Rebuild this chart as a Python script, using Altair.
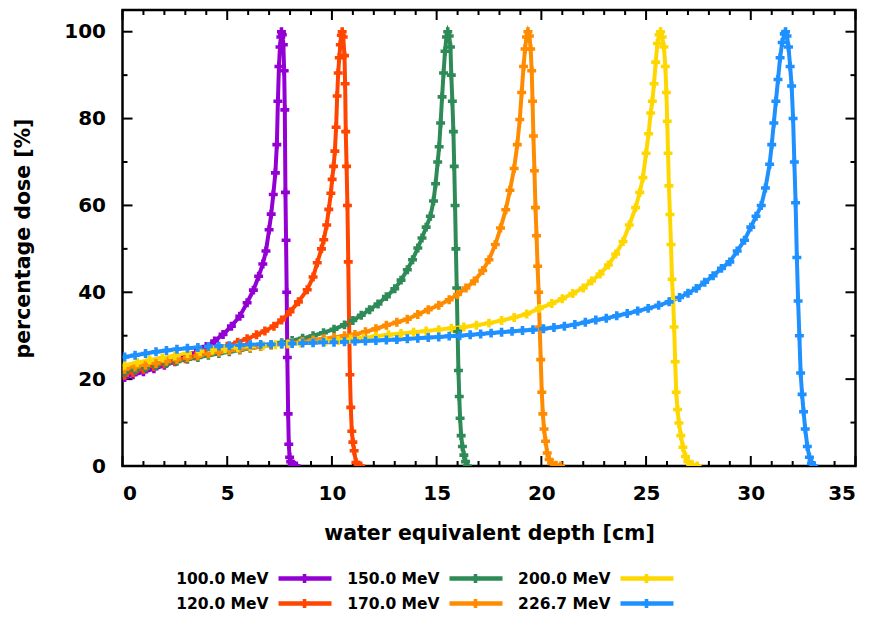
import altair as alt
import pandas as pd

names = ["100.0 MeV", "120.0 MeV", "150.0 MeV", "170.0 MeV", "200.0 MeV", "226.7 MeV"]
colors = ["#9400D3", "#FF4500", "#2E8B57", "#FF8C00", "#FFD700", "#1E90FF"]

x100 = [0.1, 0.5, 1.0, 1.5, 2.0, 2.5, 3.0, 3.5, 4.0, 4.4, 4.8, 5.2, 5.6, 5.95, 6.25, 6.5, 6.7, 6.85, 7.0, 7.1, 7.2, 7.3, 7.37, 7.42, 7.47, 7.52, 7.56, 7.59,
        7.63, 7.68, 7.72, 7.75, 7.78, 7.81, 7.84, 7.87, 7.91, 7.94, 7.98, 8.03, 8.1, 8.2, 8.3]
y100 = [20.4, 21.0, 21.7, 22.4, 23.2, 24.0, 25.0, 26.0, 27.5, 28.8, 30.3, 32.2, 34.5, 37.6, 40.5, 43.7, 46.5, 49.5, 54.4, 58.0, 62.5, 67.5, 74.0, 84.0, 92.0, 96.5, 98.8, 100.0,
        99.3, 97.0, 91.0, 82.0, 63.0, 52.0, 40.0, 25.0, 12.0, 5.0, 2.0, 1.0, 0.4, 0.1, 0.0]

x120 = [0.1, 0.5, 1.0, 1.5, 2.0, 2.5, 3.0, 3.5, 4.0, 4.5, 5.0, 5.5, 5.95, 6.4, 6.8, 7.23, 7.6, 8.0, 8.4, 8.82, 9.1, 9.3, 9.5, 9.61, 9.75, 9.85, 9.95, 10.01, 10.08,
        10.14, 10.2, 10.25, 10.3, 10.35, 10.4, 10.45, 10.49,
        10.54, 10.6, 10.63, 10.66, 10.7, 10.74, 10.78, 10.82, 10.86, 10.9, 10.95, 11.0, 11.06, 11.15, 11.25, 11.37]
y120 = [20.9, 21.5, 22.2, 22.9, 23.5, 24.1, 24.7, 25.3, 26.0, 26.8, 27.6, 28.5, 29.3, 30.2, 31.1, 32.2, 33.6, 35.5, 37.8, 40.6, 43.5, 46.8, 50.0, 52.1, 55.5, 59.1, 62.8,
        66.0, 69.0, 72.5, 78.0, 85.2, 90.5, 94.0, 97.0, 99.2, 100.0,
        98.8, 94.5, 88.0, 77.0, 69.0, 60.0, 47.0, 33.0, 21.0, 13.5, 8.0, 5.5, 3.5, 0.8, 0.2, 0.0]

x150 = [0.1, 0.6, 1.1, 1.6, 2.1, 2.6, 3.1, 3.6, 4.1, 4.6, 5.1, 5.6, 6.1, 6.6, 7.1, 7.6, 8.1, 8.6, 9.1, 9.6, 10.1, 10.6, 11.0, 11.4, 11.8, 12.2, 12.6, 13.0, 13.3,
        13.6, 13.85, 14.1, 14.3, 14.5, 14.7, 14.85, 14.95, 15.05, 15.12, 15.19, 15.26, 15.33, 15.4, 15.47, 15.53,
        15.6, 15.66, 15.7, 15.75, 15.8, 15.84, 15.88, 15.92, 15.96, 16.0, 16.04, 16.08, 16.12, 16.17, 16.23, 16.3, 16.38, 16.46]
y150 = [21.6, 22.1, 22.6, 23.1, 23.6, 24.1, 24.6, 25.0, 25.5, 25.9, 26.3, 26.7, 27.1, 27.5, 27.9, 28.4, 28.9, 29.4, 30.0, 30.7, 31.5, 32.5, 33.5, 34.7, 36.0, 37.3,
        39.0, 40.8, 42.8, 45.2, 47.5, 50.2, 52.5, 55.0, 57.5, 61.0, 65.0, 70.0, 73.5, 79.0, 85.0, 90.5, 95.5, 98.8, 100.0,
        99.0, 96.5, 90.0, 84.0, 77.0, 69.0, 60.0, 50.0, 41.0, 31.0, 22.0, 16.0, 11.0, 7.0, 4.5, 2.5, 1.0, 0.0]

x170 = [0.1, 0.6, 1.1, 1.6, 2.1, 2.6, 3.1, 3.6, 4.1, 4.6, 5.1, 5.6, 6.1, 6.6, 7.1, 7.6, 8.1, 8.6, 9.1, 9.6, 10.1, 10.6, 11.1, 11.6, 12.1, 12.6, 13.1, 13.6,
        14.1, 14.6, 15.1, 15.6, 16.0, 16.4, 16.8, 17.2, 17.5, 17.8, 18.05, 18.3, 18.5, 18.7, 18.85, 18.97, 19.06, 19.15, 19.22, 19.29, 19.36,
        19.43, 19.49, 19.54, 19.58, 19.62, 19.67, 19.72, 19.77, 19.82, 19.87, 19.92, 19.97, 20.02, 20.07, 20.13, 20.2, 20.28, 20.37, 20.5, 20.7, 20.92]
y170 = [22.3, 22.8, 23.2, 23.6, 24.1, 24.5, 24.9, 25.3, 25.8, 26.2, 26.6, 26.9, 27.2, 27.5, 27.8, 28.1, 28.4, 28.7, 29.0, 29.3, 29.6, 30.0, 30.3, 30.9, 31.6,
        32.4, 33.1, 33.8, 34.9, 36.0, 37.0, 38.3, 39.5, 41.0, 42.6, 45.0, 47.5, 51.0, 54.8, 59.0, 63.5, 68.5, 74.0, 79.8, 86.0, 92.0, 96.0, 98.8, 100.0,
        99.0, 96.0, 91.0, 84.0, 76.0, 68.0, 59.5, 53.0, 46.0, 40.0, 32.0, 24.5, 17.0, 12.0, 8.5, 5.7, 3.0, 1.5, 0.6, 0.2, 0.0]

x200 = [0.1, 0.7, 1.3, 1.9, 2.5, 3.1, 3.7, 4.3, 4.9, 5.5, 6.1, 6.7, 7.3, 7.9, 8.5, 9.1, 9.7, 10.3, 10.9, 11.5, 12.1, 12.7, 13.3, 13.9, 14.5, 15.1, 15.7, 16.3,
        16.9, 17.5, 18.1, 18.7, 19.3, 19.9, 20.5, 21.0, 21.5, 22.0, 22.4, 22.8, 23.2, 23.55, 23.9, 24.2, 24.5, 24.7, 24.85, 25.0, 25.12, 25.22, 25.3,
        25.38, 25.46, 25.54, 25.62, 25.69,
        25.77, 25.85, 25.92, 25.97, 26.01, 26.05, 26.09, 26.14, 26.19, 26.24, 26.29, 26.34, 26.39, 26.44, 26.5, 26.57, 26.66, 26.76, 26.88, 27.0, 27.2, 27.44]
y200 = [23.2, 23.8, 24.4, 24.9, 25.4, 25.9, 26.3, 26.7, 27.0, 27.3, 27.5, 27.7, 27.9, 28.1, 28.3, 28.5, 28.7, 28.9, 29.2, 29.5, 29.9, 30.2, 30.5, 30.8, 31.1,
        31.4, 31.7, 32.0, 32.4, 32.9, 33.5, 34.2, 35.0, 36.3, 37.4, 38.5, 39.7, 41.0, 42.6, 44.2, 46.3, 48.8, 51.7, 55.5, 59.5, 63.0, 66.4, 72.0, 76.5,
        81.3, 84.0, 88.0, 93.0, 97.3, 99.3, 100.0,
        98.8, 96.5, 92.0, 86.0, 79.4, 72.0, 64.5, 57.9, 51.0, 43.0, 38.5, 32.0, 24.0, 17.0, 13.0, 9.9, 7.0, 4.3, 2.2, 1.0, 0.3, 0.0]

x227 = [0.1, 0.6, 1.1, 1.6, 2.1, 2.6, 3.1, 3.6, 4.1, 4.6, 5.1, 5.6, 6.1, 6.6, 7.1, 7.6, 8.1, 8.6, 9.1, 9.6, 10.1, 10.6, 11.1, 11.6, 12.1, 12.6, 13.1, 13.6,
        14.1, 14.6, 15.1, 15.6, 16.1, 16.6, 17.1, 17.6, 18.1, 18.6, 19.1, 19.6, 20.1, 20.6, 21.1, 21.6, 22.1, 22.6, 23.1, 23.6, 24.1, 24.6, 25.1, 25.6,
        26.1, 26.6, 27.0, 27.4, 27.8, 28.2, 28.6, 29.0, 29.35, 29.7, 30.0, 30.25, 30.5, 30.7, 30.9, 31.0, 31.1, 31.2, 31.3, 31.4, 31.5, 31.6, 31.66,
        31.73, 31.8, 31.88, 31.95, 32.02, 32.08, 32.14, 32.2, 32.26, 32.32, 32.38, 32.45, 32.52, 32.6, 32.7, 32.8, 32.9, 33.0]
y227 = [25.1, 25.5, 25.9, 26.3, 26.6, 26.9, 27.1, 27.3, 27.5, 27.6, 27.7, 27.8, 27.9, 28.0, 28.0, 28.1, 28.2, 28.3, 28.4, 28.5, 28.5, 28.6, 28.7, 28.8, 28.9,
        29.0, 29.1, 29.3, 29.4, 29.6, 29.7, 29.9, 30.0, 30.2, 30.4, 30.6, 30.8, 31.0, 31.2, 31.4, 31.6, 31.9, 32.2, 32.6, 33.1, 33.6, 34.0, 34.6, 35.1,
        35.7, 36.3, 37.0, 37.8, 38.8, 39.8, 40.9, 42.3, 43.8, 45.5, 47.0, 49.5, 52.0, 55.0, 57.5, 60.0, 64.0, 69.5, 74.0, 79.0, 84.0, 89.0, 94.0, 97.5,
        99.5, 100.0,
        99.0, 96.5, 92.0, 87.5, 80.0, 70.0, 60.6, 48.0, 38.0, 30.0, 21.4, 16.5, 12.5, 8.5, 4.5, 2.0, 0.6, 0.0]

x_major = [0, 5, 10, 15, 20, 25, 30, 35]
x_minor = [1, 2, 3, 4, 6, 7, 8, 9, 11, 12, 13, 14, 16, 17, 18, 19, 21, 22, 23, 24, 26, 27, 28, 29, 31, 32, 33, 34]
y_major = [0, 20, 40, 60, 80, 100]
y_minor = [10, 30, 50, 70, 90]

legend_col = [0, 0, 1, 1, 2, 2]
legend_row = [0, 1, 0, 1, 0, 1]

W, H = 733, 456
FONT = "DejaVu Sans"

xs = [x100, x120, x150, x170, x200, x227]
ys = [y100, y120, y150, y170, y200, y227]
rows = []
for n, xx, yy in zip(names, xs, ys):
    for i, (a, b) in enumerate(zip(xx, yy)):
        rows.append({"series": n, "depth": a, "dose": b, "idx": i})
df = pd.DataFrame(rows)

leg_domain = [names[0], names[2], names[4], names[1], names[3], names[5]]
leg_range = [colors[0], colors[2], colors[4], colors[1], colors[3], colors[5]]
color_scale = alt.Scale(domain=leg_domain, range=leg_range)

xscale = alt.Scale(domain=[0, 35], nice=False, zero=False)
yscale = alt.Scale(domain=[0, 105], nice=False, zero=False)

xaxis = alt.Axis(values=x_major, ticks=False, tickSize=0, domain=False, grid=False, labelPadding=17,
                 labelFont=FONT, labelFontSize=20, labelFontWeight="bold", labelColor="black",
                 title="water equivalent depth [cm]", titleFont=FONT, titleFontSize=20.5, titleFontWeight="bold",
                 titleColor="black", titlePadding=20)
yaxis = alt.Axis(values=y_major, ticks=False, tickSize=0, domain=False, grid=False, labelPadding=17,
                 labelFont=FONT, labelFontSize=20, labelFontWeight="bold", labelColor="black",
                 title="percentage dose [%]", titleFont=FONT, titleFontSize=20.5, titleFontWeight="bold",
                 titleColor="black", titlePadding=30)

lines = alt.Chart(df).mark_line(strokeWidth=4, clip=True).encode(
    x=alt.X("depth:Q", scale=xscale, axis=xaxis),
    y=alt.Y("dose:Q", scale=yscale, axis=yaxis),
    color=alt.Color("series:N", scale=color_scale, legend=None),
    order="idx:Q",
)
points = alt.Chart(df).mark_point(shape="cross", filled=True, size=80, opacity=1, clip=True).encode(
    x=alt.X("depth:Q", scale=xscale),
    y=alt.Y("dose:Q", scale=yscale),
    color=alt.Color("series:N", scale=color_scale, legend=None),
)

tdf_xmaj = pd.DataFrame({"v": x_major})
tdf_xmin = pd.DataFrame({"v": x_minor})
tdf_ymaj = pd.DataFrame({"v": y_major})
tdf_ymin = pd.DataFrame({"v": y_minor})

def xticks(d, L):
    bot = alt.Chart(d).mark_rule(color="black", strokeWidth=2).encode(
        x=alt.X("v:Q", scale=xscale), y=alt.value(H), y2=alt.value(H - L))
    top = alt.Chart(d).mark_rule(color="black", strokeWidth=2).encode(
        x=alt.X("v:Q", scale=xscale), y=alt.value(0), y2=alt.value(L))
    return [bot, top]

def yticks(d, L):
    lf = alt.Chart(d).mark_rule(color="black", strokeWidth=2).encode(
        y=alt.Y("v:Q", scale=yscale), x=alt.value(0), x2=alt.value(L))
    rt = alt.Chart(d).mark_rule(color="black", strokeWidth=2).encode(
        y=alt.Y("v:Q", scale=yscale), x=alt.value(W - L), x2=alt.value(W))
    return [lf, rt]

tick_layers = xticks(tdf_xmaj, 10) + xticks(tdf_xmin, 5) + yticks(tdf_ymaj, 10) + yticks(tdf_ymin, 5)

main = alt.layer(*tick_layers, lines, points).properties(
    width=W, height=H,
    view=alt.ViewBackground(stroke="black", strokeWidth=2.5),
)

leg_df = pd.DataFrame({"series": names, "col": legend_col, "row": legend_row})
lx = alt.Scale(domain=[-0.854, 3.433], nice=False, zero=False)
ly = alt.Scale(domain=[-0.5, 1.5], reverse=True, nice=False, zero=False)
leg_text = alt.Chart(leg_df).mark_text(align="right", baseline="middle", font=FONT, fontSize=15.5,
                                        fontWeight="bold", color="black").encode(
    x=alt.X("col:Q", scale=lx, axis=None), y=alt.Y("row:Q", scale=ly, axis=None), text="series:N")
leg_rule = alt.Chart(leg_df).mark_rule(strokeWidth=4.5, xOffset=10, x2Offset=63).encode(
    x=alt.X("col:Q", scale=lx, axis=None), x2="col:Q", y=alt.Y("row:Q", scale=ly, axis=None),
    color=alt.Color("series:N", scale=color_scale, legend=None))
leg_pt = alt.Chart(leg_df).mark_point(shape="cross", filled=True, size=80, opacity=1, xOffset=36).encode(
    x=alt.X("col:Q", scale=lx, axis=None), y=alt.Y("row:Q", scale=ly, axis=None),
    color=alt.Color("series:N", scale=color_scale, legend=None))
legend = alt.layer(leg_text, leg_rule, leg_pt).properties(
    width=W, height=50, view=alt.ViewBackground(stroke="transparent"))

chart = alt.vconcat(main, legend, spacing=20).resolve_scale(x="independent", y="independent").properties(
    padding={"left": 12.5, "top": 7, "right": 0, "bottom": 0},
    background="white",
)
chart.save("out.html", embed_options={"renderer": "svg", "actions": False})
